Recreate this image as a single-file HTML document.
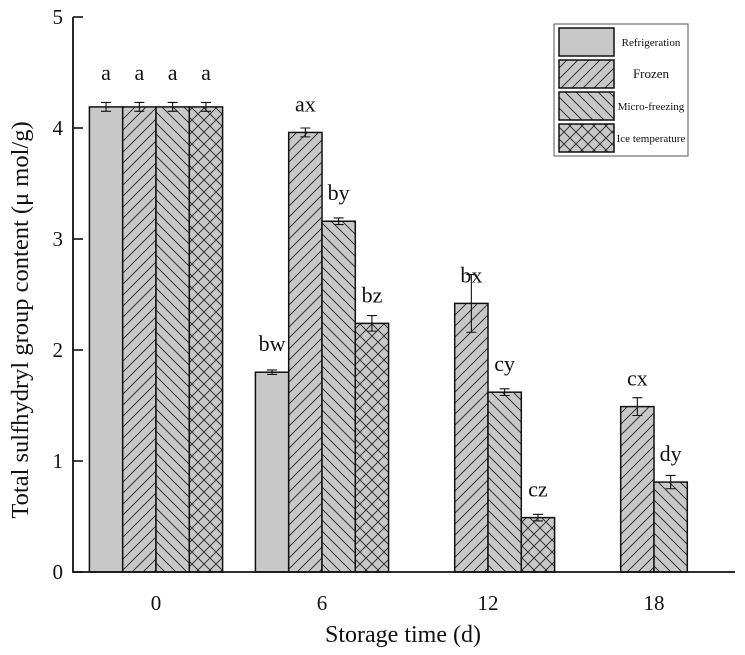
<!DOCTYPE html>
<html><head><meta charset="utf-8"><style>
body{margin:0;background:#fff}
svg{display:block;font-family:"Liberation Serif",serif}
</style></head><body>
<svg id="chart" width="745" height="655" viewBox="0 0 745 655" xmlns="http://www.w3.org/2000/svg">
<defs>
<pattern id="pFwd" patternUnits="userSpaceOnUse" width="11" height="11"><rect width="11" height="11" fill="#c8c8c8"/><path d="M-1,12 L12,-1 M-3,3 L3,-3 M8,14 L14,8" stroke="#222" stroke-width="0.9"/></pattern>
<pattern id="pBack" patternUnits="userSpaceOnUse" width="11" height="11"><rect width="11" height="11" fill="#c8c8c8"/><path d="M-1,-1 L12,12 M-3,8 L3,14 M8,-3 L14,3" stroke="#222" stroke-width="0.9"/></pattern>
<pattern id="pCross" patternUnits="userSpaceOnUse" width="12" height="12"><rect width="12" height="12" fill="#c8c8c8"/><path d="M0,0 L12,12 M12,0 L0,12" stroke="#222" stroke-width="0.9"/></pattern>
</defs>
<g id="plot"></g>
</svg>
<script>
const categories=["0","6","12","18"];
const refrigeration=[4.19,1.80,0,0];
const frozen=[4.19,3.96,2.42,1.49];
const microFreezing=[4.19,3.16,1.62,0.81];
const iceTemperature=[4.19,2.24,0.49,0];
const errRefrigeration=[0.04,0.02,0,0];
const errFrozen=[0.04,0.04,0.26,0.08];
const errMicro=[0.04,0.03,0.03,0.06];
const errIce=[0.04,0.07,0.03,0];
const lblRefrigeration=["a","bw","",""];
const lblFrozen=["a","ax","bx","cx"];
const lblMicro=["a","by","cy","dy"];
const lblIce=["a","bz","cz",""];
const yTicks=[0,1,2,3,4,5];

const NS="http://www.w3.org/2000/svg";
const g=document.getElementById('plot');
const X0=73,Y0=572,YTOP=17,YMAX=5,BW=33.3;
function y(v){return Y0-(v/YMAX)*(Y0-YTOP);}
function xc(i){return 156+i*166;}
function mk(t,a,p){const e=document.createElementNS(NS,t);for(const k in a)e.setAttribute(k,a[k]);(p||g).appendChild(e);return e;}
const series=[
 {v:refrigeration,e:errRefrigeration,l:lblRefrigeration,f:"#c8c8c8",n:"refrigeration"},
 {v:frozen,e:errFrozen,l:lblFrozen,f:"url(#pFwd)",n:"frozen"},
 {v:microFreezing,e:errMicro,l:lblMicro,f:"url(#pBack)",n:"micro-freezing"},
 {v:iceTemperature,e:errIce,l:lblIce,f:"url(#pCross)",n:"ice-temperature"}];
categories.forEach((c,i)=>{
 const present=series.filter(s=>s.v[i]>0);
 let x=xc(i)-(present.length>=4?2:1)*BW;
 present.forEach(s=>{
  const v=s.v[i],top=y(v);
  const r=mk('rect',{x:x,y:top,width:BW,height:Y0-top,fill:s.f,stroke:'#111','stroke-width':1.5});
  
  
  const m=x+BW/2,e=s.e[i];
  const eb=mk('path',{d:`M${m},${y(v+e)}V${y(v-e)}M${m-5},${y(v+e)}H${m+5}M${m-5},${y(v-e)}H${m+5}`,stroke:'#111','stroke-width':1.1,fill:'none'});
  
  
  if(s.l[i]){
   const t=mk('text',{x:m,y:top-(i==0?27:21),'text-anchor':'middle','font-size':22,fill:'#111'});
   t.textContent=s.l[i];
   
   
  }
  x+=BW;
 });
 const t=mk('text',{x:xc(i),y:610,'text-anchor':'middle','font-size':21,fill:'#111'});
 t.textContent=c;
 
 
});
const ax=mk('path',{d:`M${X0},${YTOP}V${Y0}H735`,stroke:'#111','stroke-width':1.8,fill:'none'});


yTicks.forEach(v=>{
 const tk=mk('path',{d:`M${X0},${y(v)}H${X0+10}`,stroke:'#111','stroke-width':1.6});
 
 
 const t=mk('text',{x:X0-10,y:y(v)+7,'text-anchor':'end','font-size':21,fill:'#111'});
 t.textContent=v;
 
 
});
</script>
<script>
(function(){
const NS="http://www.w3.org/2000/svg",svg=document.getElementById('chart');
function mk(t,a){const e=document.createElementNS(NS,t);for(const k in a)e.setAttribute(k,a[k]);svg.appendChild(e);return e;}
let t=mk('text',{x:403,y:642,'text-anchor':'middle','font-size':24,fill:'#111'});
t.textContent='Storage time (d)';


t=mk('text',{x:0,y:0,transform:'translate(28,320) rotate(-90)','text-anchor':'middle','font-size':24.5,fill:'#111'});
t.textContent='Total sulfhydryl group content (μ mol/g)';


const lg=mk('rect',{x:554,y:24,width:134,height:132,fill:'#fff',stroke:'#555','stroke-width':1});


const items=[["Refrigeration","#c8c8c8"],["Frozen","url(#pFwd)"],["Micro-freezing","url(#pBack)"],["Ice temperature","url(#pCross)"]];
items.forEach((it,i)=>{
 const sw=mk('rect',{x:559,y:28+i*32,width:55,height:28,fill:it[1],stroke:'#111','stroke-width':1.5});
 
 
 const tx=mk('text',{x:651,y:46+i*32,'text-anchor':'middle','font-size':i==1?13:11,fill:'#111'});
 tx.textContent=it[0];
 
 
});
})();
</script>
</body></html>
